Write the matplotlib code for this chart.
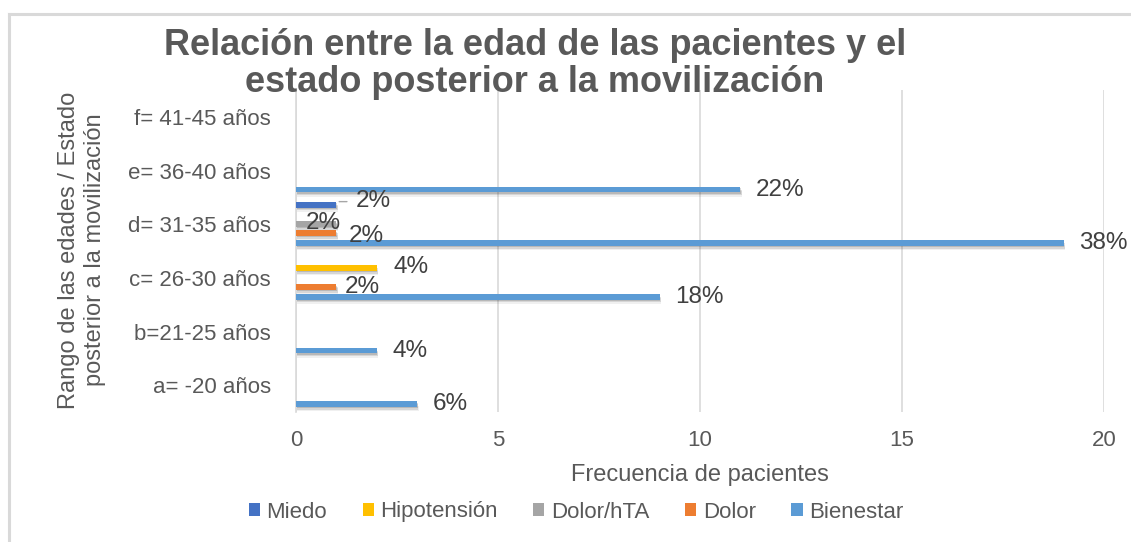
import numpy as np
import matplotlib
matplotlib.use("Agg")
import matplotlib.pyplot as plt
import matplotlib.patheffects as pe
from matplotlib.patches import Patch
from matplotlib.lines import Line2D

plt.rcParams['font.family'] = ['Liberation Sans', 'DejaVu Sans']

categories = ['a= -20 años', 'b=21-25 años', 'c= 26-30 años',
              'd= 31-35 años', 'e= 36-40 años', 'f= 41-45 años']
series = ['Miedo', 'Hipotensión', 'Dolor/hTA', 'Dolor', 'Bienestar']
miedo = [0, 0, 0, 1, 0, 0]
hipotension = [0, 0, 2, 0, 0, 0]
dolor_hta = [0, 0, 0, 1, 0, 0]
dolor = [0, 0, 1, 1, 0, 0]
bienestar = [3, 2, 9, 19, 11, 0]
total = 50
colors = ['#4472C4', '#FFC000', '#A5A5A5', '#ED7D31', '#5B9BD5']

values = [miedo, hipotension, dolor_hta, dolor, bienestar]
offsets = [0.36, 0.18, 0.0, -0.17, -0.355]

W, H = 1131, 542
fig = plt.figure(figsize=(W / 100, H / 100), dpi=100)

# chart frame (top and left edges only visible)
fig.add_artist(Line2D([9 / W, 9 / W], [0, 1 - 14 / H], transform=fig.transFigure,
                      color='#d9d9d9', lw=2.2))
fig.add_artist(Line2D([9 / W, 1], [1 - 14 / H, 1 - 14 / H], transform=fig.transFigure,
                      color='#d9d9d9', lw=2.2))

ax = fig.add_axes([296 / W, 130 / H, (1104 - 296) / W, (412 - 90) / H])
y = np.arange(len(categories))

shadow = [pe.SimplePatchShadow(offset=(0.5, -1.0), shadow_rgbFace='#444444', alpha=0.2),
          pe.SimplePatchShadow(offset=(0.8, -2.0), shadow_rgbFace='#444444', alpha=0.15),
          pe.SimplePatchShadow(offset=(1.0, -3.0), shadow_rgbFace='#444444', alpha=0.08),
          pe.Normal()]
for vals, off, col, name in zip(values, offsets, colors, series):
    bars = ax.barh(y + off, vals, height=0.105, color=col, label=name, zorder=3)
    for b in bars:
        b.set_path_effects(shadow)

lab_kw = dict(fontsize=17.5, color='#404040', va='center', ha='left')
# data labels (value as % of total)
for si, vals in enumerate(values):
    for ci, v in enumerate(vals):
        if v == 0:
            continue
        pct = '%d%%' % round(100 * v / total)
        yy = ci + offsets[si]
        dx, dy = 11, 0
        if ci == 3 and series[si] == 'Miedo':
            dx, dy = 14, 3
            ax.annotate('', xy=(v, yy + 0.06), xytext=(v + 0.33, yy + 0.06),
                        arrowprops=dict(arrowstyle='-', color='#a6a6a6', lw=1))
        elif ci == 3 and series[si] == 'Dolor/hTA':
            dx, dy = -22, 1
        elif ci == 3 and series[si] == 'Dolor':
            dx, dy = 9, -2
        elif ci == 2 and series[si] == 'Dolor':
            dx = 6
        elif ci == 2 and series[si] == 'Hipotensión':
            dx, dy = 12, 1
        ax.annotate(pct, xy=(v, yy), xytext=(dx, dy), textcoords='offset points', **lab_kw)

ax.set_xlim(0, 20)
ax.set_ylim(-0.5, len(categories) - 0.5)
ax.set_xticks([0, 5, 10, 15, 20])
ax.set_yticks(y)
ax.set_yticklabels(categories)
ax.tick_params(axis='both', length=0, labelsize=16, labelcolor='#595959')
ax.tick_params(axis='x', pad=13)
ax.tick_params(axis='y', pad=18)
ax.grid(axis='x', color='#d9d9d9', lw=1.2, zorder=0)
for s in ['top', 'right', 'bottom']:
    ax.spines[s].set_visible(False)
ax.spines['left'].set_color('#d9d9d9')
ax.spines['left'].set_linewidth(1.2)

ax.set_xlabel('Frecuencia de pacientes', fontsize=17, color='#595959', labelpad=9)

fig.text(82 / W, 1 - 250 / H, 'Rango de las edades / Estado\nposterior a la movilización',
         rotation=90, ha='center', va='center', fontsize=17, color='#595959',
         linespacing=1.2)

fig.text(535 / W, 1 - 64 / H,
         'Relación entre la edad de las pacientes y el\nestado posterior a la movilización',
         ha='center', va='center', fontsize=26, fontweight='bold', color='#595959',
         linespacing=1.1)

handles = [Patch(facecolor=c, label=n) for c, n in zip(colors, series)]
leg = fig.legend(handles=handles, loc='center', bbox_to_anchor=(576 / W, 1 - 512 / H),
                 ncol=5, frameon=False, fontsize=16, handlelength=0.5, handleheight=0.5,
                 handletextpad=0.3, columnspacing=1.6, labelcolor='#595959')

fig.savefig('out.png', dpi=100)
